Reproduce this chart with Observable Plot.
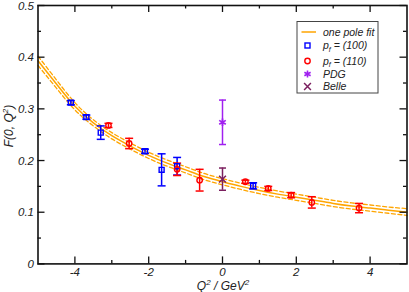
<!DOCTYPE html>
<html><head><meta charset="utf-8">
<script src="https://cdn.jsdelivr.net/npm/d3@7"></script>
<script src="https://cdn.jsdelivr.net/npm/@observablehq/plot@0.6"></script>
<style>body{margin:0;background:#fff} svg{display:block}</style>
</head><body><div id="chart"></div>
<script>
// one pole fit
const fitQ2    = [-5,-4.5,-4,-3.5,-3,-2.5,-2,-1.5,-1,-0.5,0,0.5,1,1.5,2,2.5,3,3.5,4,4.5,5];
const fitF     = [0.393,0.348,0.305,0.273,0.248,0.228,0.210,0.195,0.182,0.169,0.159,0.150,0.142,0.135,0.129,0.123,0.117,0.112,0.108,0.104,0.100];
const fitUpper = [0.402,0.356,0.312,0.279,0.254,0.234,0.216,0.201,0.188,0.175,0.165,0.156,0.148,0.141,0.135,0.129,0.123,0.118,0.114,0.110,0.107];
const fitLower = [0.384,0.340,0.298,0.267,0.242,0.222,0.204,0.189,0.176,0.163,0.153,0.144,0.136,0.129,0.123,0.117,0.111,0.106,0.102,0.098,0.094];

// p_f = (100)
const p100Q2  = [-4.11,-3.69,-3.30,-2.10,-1.65,-1.23,0.83];
const p100F   = [0.312,0.284,0.254,0.218,0.182,0.189,0.151];
const p100Err = [0.004,0.004,0.013,0.004,0.031,0.017,0.006];

// p_f = (110)
const p110Q2  = [-3.09,-2.53,-1.23,-0.62,0.62,1.24,1.86,2.42,3.70];
const p110F   = [0.268,0.233,0.183,0.162,0.159,0.146,0.133,0.119,0.108];
const p110Err = [0.004,0.010,0.012,0.021,0.003,0.004,0.005,0.011,0.009];

// PDG and Belle
const pdgQ2 = [0], pdgF = [0.274], pdgErr = [0.043];
const belleQ2 = [0], belleF = [0.164], belleErr = [0.0215];

const xMajor = [-4,-2,0,2,4];
const xMinor = [-3,-1,1,3];
const yMajor = [0,0.1,0.2,0.3,0.4,0.5];
const yMinor = [0.05,0.15,0.25,0.35,0.45];

const cFit = "#FFA500", cBlue = "#0000FF", cRed = "#FF0000", cPdg = "#A020F0", cBelle = "#7B1F5F";

const fit = fitQ2.map((x,i)=>({x, f:fitF[i], up:fitUpper[i], lo:fitLower[i]}));
const mk = (q,f,e)=>q.map((x,i)=>({x, y:f[i], e:e[i]}));
const p100 = mk(p100Q2,p100F,p100Err);
const p110 = mk(p110Q2,p110F,p110Err);
const pdg = mk(pdgQ2,pdgF,pdgErr);
const belle = mk(belleQ2,belleF,belleErr);

const cap = {draw(ctx, size){ const w = Math.sqrt(size/Math.PI); ctx.moveTo(-w,0); ctx.lineTo(w,0); }};

function errMarks(data, color, capR){
  return [
    Plot.ruleX(data, {x:"x", y1:d=>d.y-d.e, y2:d=>d.y+d.e, stroke:color, strokeWidth:1.5}),
    Plot.dot(data, {x:"x", y:d=>d.y-d.e, symbol:cap, r:capR, stroke:color, fill:"none", strokeWidth:1.5}),
    Plot.dot(data, {x:"x", y:d=>d.y+d.e, symbol:cap, r:capR, stroke:color, fill:"none", strokeWidth:1.5})
  ];
}

const W = 409, H = 292, mL = 37.5, mR = 2.5, mT = 5, mB = 28.6;
const iW = W - mL - mR, iH = H - mT - mB;

const chart = Plot.plot({
  width: W, height: H,
  marginLeft: mL, marginRight: mR, marginTop: mT, marginBottom: mB,
  style: {fontFamily: "'Liberation Sans', Arial, sans-serif", fontSize: "11.5px", fontStyle: "italic", background: "#fff", color: "#222", overflow: "visible"},
  x: {domain: [-5, 5]},
  y: {domain: [0, 0.5]},
  marks: [
    // fit band
    Plot.line(fit, {x:"x", y:"up", stroke:cFit, strokeWidth:1.3, strokeDasharray:"4,2.5", curve:"natural"}),
    Plot.line(fit, {x:"x", y:"lo", stroke:cFit, strokeWidth:1.3, strokeDasharray:"4,2.5", curve:"natural"}),
    Plot.line(fit, {x:"x", y:"f", stroke:cFit, strokeWidth:1.5, curve:"natural"}),
    // error bars
    ...errMarks(p100, cBlue, 4),
    ...errMarks(p110, cRed, 4),
    ...errMarks(pdg, cPdg, 3.5),
    ...errMarks(belle, cBelle, 3.5),
    Plot.dot(p100, {x:"x", y:"y", symbol:"square", r:2.8, stroke:cBlue, fill:"none", strokeWidth:1.4}),
    Plot.dot(p110, {x:"x", y:"y", symbol:"circle", r:2.7, stroke:cRed, fill:"none", strokeWidth:1.4}),
    Plot.dot(pdg, {x:"x", y:"y", symbol:"asterisk", r:3.6, stroke:cPdg, fill:"none", strokeWidth:1.7}),
    Plot.dot(belle, {x:"x", y:"y", symbol:"times", r:3.2, stroke:cBelle, fill:"none", strokeWidth:1.5}),
    // inward ticks
    Plot.tickX(xMajor, {x:d=>d, insetTop:iH-7, stroke:"#111", strokeWidth:1.3}),
    Plot.tickX(xMinor, {x:d=>d, insetTop:iH-3.5, stroke:"#111", strokeWidth:1.3}),
    Plot.tickX(xMajor, {x:d=>d, insetBottom:iH-7, stroke:"#111", strokeWidth:1.3}),
    Plot.tickX(xMinor, {x:d=>d, insetBottom:iH-3.5, stroke:"#111", strokeWidth:1.3}),
    Plot.tickY(yMajor, {y:d=>d, insetRight:iW-7, stroke:"#111", strokeWidth:1.3}),
    Plot.tickY(yMinor, {y:d=>d, insetRight:iW-3.5, stroke:"#111", strokeWidth:1.3}),
    Plot.tickY(yMajor, {y:d=>d, insetLeft:iW-7, stroke:"#111", strokeWidth:1.3}),
    Plot.tickY(yMinor, {y:d=>d, insetLeft:iW-3.5, stroke:"#111", strokeWidth:1.3}),
    Plot.axisX({ticks:xMajor, tickSize:0, tickPadding:4, tickFormat:d=>String(d), label:null, fill:"#222"}),
    Plot.axisY({ticks:yMajor, tickSize:0, tickPadding:4, tickFormat:d=>String(d), label:null, fill:"#222", dy:0.5}),
    Plot.frame({stroke:"#111", strokeWidth:1.6})
  ]
});

document.getElementById("chart").appendChild(chart);

const svg = d3.select(chart);
// axis titles
const yl = svg.append("text").attr("transform", "translate(13,126) rotate(-90)")
  .attr("text-anchor","middle").attr("font-style","italic").attr("font-size","12px").attr("fill","#222");
yl.append("tspan").text("F(0, Q");
yl.append("tspan").attr("font-size","8px").attr("dy","-5").text("2");
yl.append("tspan").attr("dy","5").text(")");

const xl = svg.append("text").attr("x", 223).attr("y", 289.5)
  .attr("text-anchor","middle").attr("font-style","italic").attr("font-size","12px").attr("fill","#222");
xl.append("tspan").text("Q");
xl.append("tspan").attr("font-size","8px").attr("dy","-4.5").text("2");
xl.append("tspan").attr("dy","4.5").text(" / GeV");
xl.append("tspan").attr("font-size","8px").attr("dy","-4.5").text("2");

// legend
const lg = svg.append("g").attr("font-style","italic").attr("font-size","10.5px").attr("fill","#222").attr("text-anchor","start");
lg.append("rect").attr("x",297).attr("y",21.5).attr("width",81).attr("height",71.5)
  .attr("fill","#fff").attr("stroke","#444").attr("stroke-width",1);
const rows = [32, 45.5, 61, 74, 86.5];
const sx = 307.5, tx = 323;
lg.append("line").attr("x1",301.5).attr("x2",316).attr("y1",rows[0]).attr("y2",rows[0]).attr("stroke",cFit).attr("stroke-width",1.5);
lg.append("rect").attr("x",sx-2.5).attr("y",rows[1]-2.5).attr("width",5).attr("height",5).attr("fill","none").attr("stroke",cBlue).attr("stroke-width",1.4);
lg.append("circle").attr("cx",sx).attr("cy",rows[2]).attr("r",2.7).attr("fill","none").attr("stroke",cRed).attr("stroke-width",1.4);
lg.append("path").attr("transform",`translate(${sx},${rows[3]})`).attr("d",d3.symbol(d3.symbolAsterisk, 36)()).attr("fill","none").attr("stroke",cPdg).attr("stroke-width",1.6);
lg.append("path").attr("transform",`translate(${sx},${rows[4]})`).attr("d",d3.symbol(d3.symbolTimes, 32)()).attr("fill","none").attr("stroke",cBelle).attr("stroke-width",1.5);
const labels = [["one pole fit"],["p","f"," = (100)"],["p","f"," = (110)"],["PDG"],["Belle"]];
labels.forEach((l,i)=>{
  const t = lg.append("text").attr("x",tx).attr("y",rows[i]).attr("dy","0.35em");
  t.append("tspan").text(l[0]);
  if (l.length>1){
    t.append("tspan").attr("font-size","7px").attr("dy","2.5").text(l[1]);
    t.append("tspan").attr("dy","-2.5").text(l[2]);
  }
});
</script></body></html>
